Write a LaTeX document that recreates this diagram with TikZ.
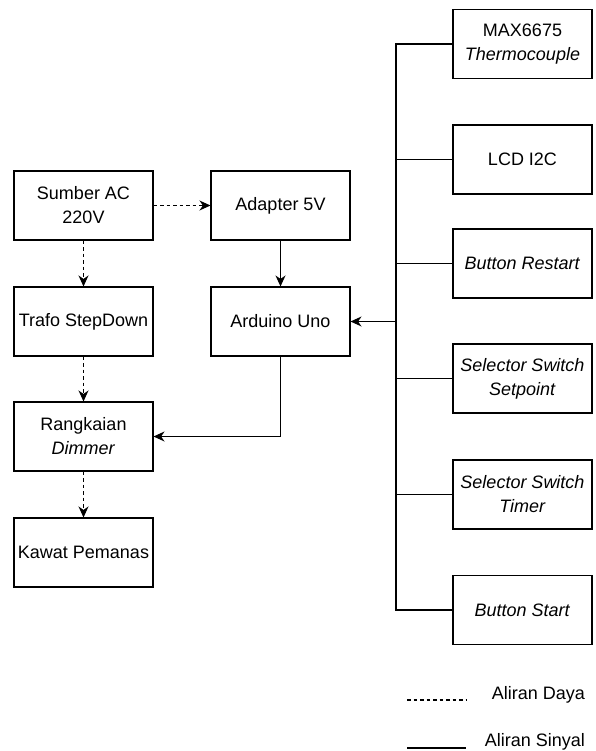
\documentclass[tikz,border=0pt]{standalone}
\usepackage{fontspec}
\setmainfont{Liberation Sans}
\usepackage{tikz}
\usetikzlibrary{calc}
\usetikzlibrary{arrows.meta}
\tikzset{
	blok/.style={draw,line width=1.1pt,minimum width=139pt,minimum height=69pt,inner sep=0pt,align=center},
	daya/.style={line width=1.1pt,dash pattern=on 3.5pt off 3pt},
	sinyal/.style={line width=1.1pt},
	panah/.style={-{Stealth[length=11pt,width=10pt,inset=3.5pt]}}
}

\begin{document}
\begin{tikzpicture}[x=1pt,y=-1pt]
	
\useasboundingbox (0,0) rectangle (595,751);
\begin{scope}[font=\fontsize{18}{24}\selectfont]
% blok daya
\node[blok] (sumber) at (83.5,205.5) {Sumber AC\\220V};
\node[blok] (trafo) at (83.5,321.5) {Trafo StepDown};
\node[blok] (dimmer) at (83.5,436.5) {Rangkaian\\\textit{Dimmer}};
\node[blok] (kawat) at (83.5,552.5) {Kawat Pemanas};
\node[blok] (adapter) at (280.5,205.5) {Adapter 5V};
\node[blok] (arduino) at (280.5,321.5) {Arduino Uno};
% blok sinyal
\node[blok] (max) at (522.5,44) {MAX6675\\\textit{Thermocouple}};
\node[blok] (lcd) at (522.5,159.5) {LCD I2C};
\node[blok] (restart) at (522.5,263.5) {\textit{Button Restart}};
\node[blok] (setpoint) at (522.5,378.5) {\textit{Selector Switch}\\\textit{Setpoint}};
\node[blok] (timer) at (522.5,494.5) {\textit{Selector Switch}\\\textit{Timer}};
\node[blok] (start) at (522.5,610) {\textit{Button Start}};

\draw[daya,panah] (sumber) -- (adapter);
\draw[daya,panah] (sumber) -- (trafo);
\draw[daya,panah] (trafo) -- (dimmer);
\draw[daya,panah] (dimmer) -- (kawat);
\draw[sinyal,panah] (adapter) -- (arduino);
\draw[sinyal,panah] (arduino.south) |- (dimmer.east);

\coordinate (bustop) at (396,44);
\coordinate (busbot) at (396,610);
\draw[sinyal] (max.west) -- (bustop) -- (busbot) -- (start.west);
\foreach \n in {lcd,restart,setpoint,timer}
	\draw[sinyal] (\n.west) -- (\n.west -| bustop);
\draw[sinyal,panah] (arduino.east -| bustop) -- (arduino.east);

% keterangan
\coordinate (dayaA) at (407,700);
\coordinate (dayaB) at (466,700);
\coordinate (sinyalA) at (407,748);
\coordinate (sinyalB) at (466,748);
\draw[daya] (dayaA) -- (dayaB);
\draw[sinyal] (sinyalA) -- (sinyalB);
\node (ketdaya) at (538.5,695) {Aliran Daya};
\node (ketsinyal) at (535,742) {Aliran Sinyal};
\end{scope}

\end{tikzpicture}
\end{document}
